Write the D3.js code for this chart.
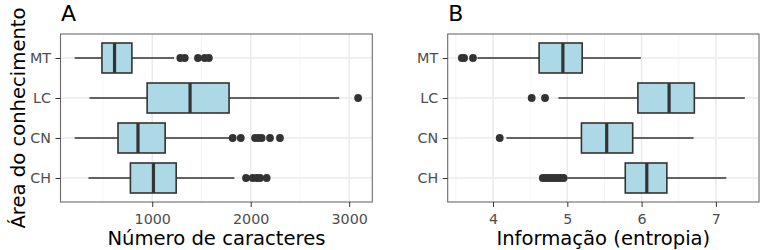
<!DOCTYPE html>
<html>
<head>
<meta charset="utf-8">
<script src="https://cdn.jsdelivr.net/npm/d3@7"></script>
<style>
  body { margin: 0; background: #fff; }
  svg { display: block; font-family: "DejaVu Sans", sans-serif; }
</style>
</head>
<body>
<div id="chart"></div>
<script>
// categories, top to bottom
const areas = ['MT', 'LC', 'CN', 'CH'];

// panel A: numero de caracteres
const charLow = [212, 362, 212, 352];
const charQ1 = [489, 948, 652, 778];
const charMed = [617, 1384, 855, 1012];
const charQ3 = [793, 1780, 1131, 1243];
const charHigh = [1222, 2899, 1790, 1834];
const charOutliers = [
  [1285, 1330, 1464, 1532, 1575],
  [3091],
  [1817, 1899, 2044, 2077, 2111, 2196, 2297],
  [1952, 2020, 2061, 2094, 2162]
];
const charTicks = [1000, 2000, 3000];
const charMinor = [500, 1500, 2500];

// panel B: informacao (entropia)
const entLow = [3.79, 4.88, 4.18, 5.0];
const entQ1 = [4.62, 5.95, 5.19, 5.78];
const entMed = [4.94, 6.37, 5.53, 6.07];
const entQ3 = [5.20, 6.71, 5.88, 6.34];
const entHigh = [5.99, 7.39, 6.70, 7.14];
const entOutliers = [
  [3.58, 3.61, 3.73],
  [4.52, 4.70],
  [4.09],
  [4.67, 4.71, 4.75, 4.79, 4.83, 4.87, 4.91, 4.95]
];
const entTicks = [4, 5, 6, 7];
const entMinor = [3.5, 4.5, 5.5, 6.5, 7.5];

const W = 760, H = 250;
const svg = d3.select('#chart').append('svg')
  .attr('width', W).attr('height', H);

const plotTop = 34, plotBottom = 202;

function panel(opts) {
  const { left, right, letter, title, low, q1, med, q3, high, outliers, ticks, minor, yTitle } = opts;

  // ggplot style 5% expansion around the data
  const allVals = low.concat(high, d3.merge(outliers));
  const [mn, mx] = d3.extent(allVals);
  const pad = (mx - mn) * 0.05;
  const x = d3.scaleLinear().domain([mn - pad, mx + pad]).range([left, right]);
  const y = d3.scalePoint().domain(areas).range([plotTop, plotBottom]).padding(0.6);
  const boxH = y.step() * 0.75;

  const g = svg.append('g');

  // grid
  g.selectAll('.minor').data(minor).enter().append('line')
    .attr('x1', d => x(d)).attr('x2', d => x(d))
    .attr('y1', plotTop).attr('y2', plotBottom)
    .attr('stroke', '#f2f2f2').attr('stroke-width', 0.8);
  g.selectAll('.major').data(ticks).enter().append('line')
    .attr('x1', d => x(d)).attr('x2', d => x(d))
    .attr('y1', plotTop).attr('y2', plotBottom)
    .attr('stroke', '#ebebeb').attr('stroke-width', 1.5);
  g.selectAll('.hgrid').data(areas).enter().append('line')
    .attr('x1', left).attr('x2', right)
    .attr('y1', d => y(d)).attr('y2', d => y(d))
    .attr('stroke', '#ebebeb').attr('stroke-width', 1.5);

  const rows = areas.map((a, i) => ({ a, low: low[i], q1: q1[i], med: med[i], q3: q3[i], high: high[i], out: outliers[i] }));

  // whiskers
  g.selectAll('.whisk').data(rows).enter().append('line')
    .attr('x1', d => x(d.low)).attr('x2', d => x(d.high))
    .attr('y1', d => y(d.a)).attr('y2', d => y(d.a))
    .attr('stroke', '#333').attr('stroke-width', 1.6);

  // boxes
  g.selectAll('.box').data(rows).enter().append('rect')
    .attr('x', d => x(d.q1)).attr('width', d => x(d.q3) - x(d.q1))
    .attr('y', d => y(d.a) - boxH / 2).attr('height', boxH)
    .attr('fill', '#add8e6').attr('stroke', '#333').attr('stroke-width', 1.6);

  // medians
  g.selectAll('.med').data(rows).enter().append('line')
    .attr('x1', d => x(d.med)).attr('x2', d => x(d.med))
    .attr('y1', d => y(d.a) - boxH / 2).attr('y2', d => y(d.a) + boxH / 2)
    .attr('stroke', '#333').attr('stroke-width', 3.2);

  // outliers
  rows.forEach(r => {
    g.selectAll(null).data(r.out).enter().append('circle')
      .attr('cx', d => x(d)).attr('cy', y(r.a)).attr('r', 3.9)
      .attr('fill', '#333');
  });

  // border
  g.append('rect')
    .attr('x', left).attr('y', plotTop)
    .attr('width', right - left).attr('height', plotBottom - plotTop)
    .attr('fill', 'none').attr('stroke', '#6b6b6b').attr('stroke-width', 1.1);

  // x axis
  const xa = g.append('g')
    .attr('transform', `translate(0,${plotBottom})`)
    .call(d3.axisBottom(x).tickValues(ticks).tickSize(5).tickPadding(6.5).tickFormat(d3.format('d')));
  xa.select('.domain').remove();
  xa.selectAll('line').attr('stroke', '#333');
  xa.selectAll('text').attr('fill', '#4d4d4d').attr('font-size', 14.3).attr('font-family', 'DejaVu Sans');

  // y axis
  const ya = g.append('g')
    .attr('transform', `translate(${left},0)`)
    .call(d3.axisLeft(y).tickSize(5).tickPadding(4.5));
  ya.select('.domain').remove();
  ya.selectAll('line').attr('stroke', '#333');
  ya.selectAll('text').attr('fill', '#4d4d4d').attr('font-size', 14.3).attr('font-family', 'DejaVu Sans');

  // titles
  g.append('text')
    .attr('x', (left + right) / 2).attr('y', 245)
    .attr('text-anchor', 'middle').attr('font-size', 19.6)
    .text(title);
  g.append('text')
    .attr('x', left + 0.5).attr('y', 20.5)
    .attr('font-size', 22)
    .text(letter);
  if (yTitle) {
    g.append('text')
      .attr('transform', `translate(25,${(plotTop + plotBottom) / 2}) rotate(-90)`)
      .attr('text-anchor', 'middle').attr('font-size', 19.6)
      .text(yTitle);
  }
}

panel({
  left: 60.5, right: 372.3, letter: 'A', title: 'Número de caracteres',
  low: charLow, q1: charQ1, med: charMed, q3: charQ3, high: charHigh, outliers: charOutliers,
  ticks: charTicks, minor: charMinor, yTitle: 'Área do conhecimento'
});
panel({
  left: 447.7, right: 759, letter: 'B', title: 'Informação (entropia)',
  low: entLow, q1: entQ1, med: entMed, q3: entQ3, high: entHigh, outliers: entOutliers,
  ticks: entTicks, minor: entMinor
});
</script>
</body>
</html>
